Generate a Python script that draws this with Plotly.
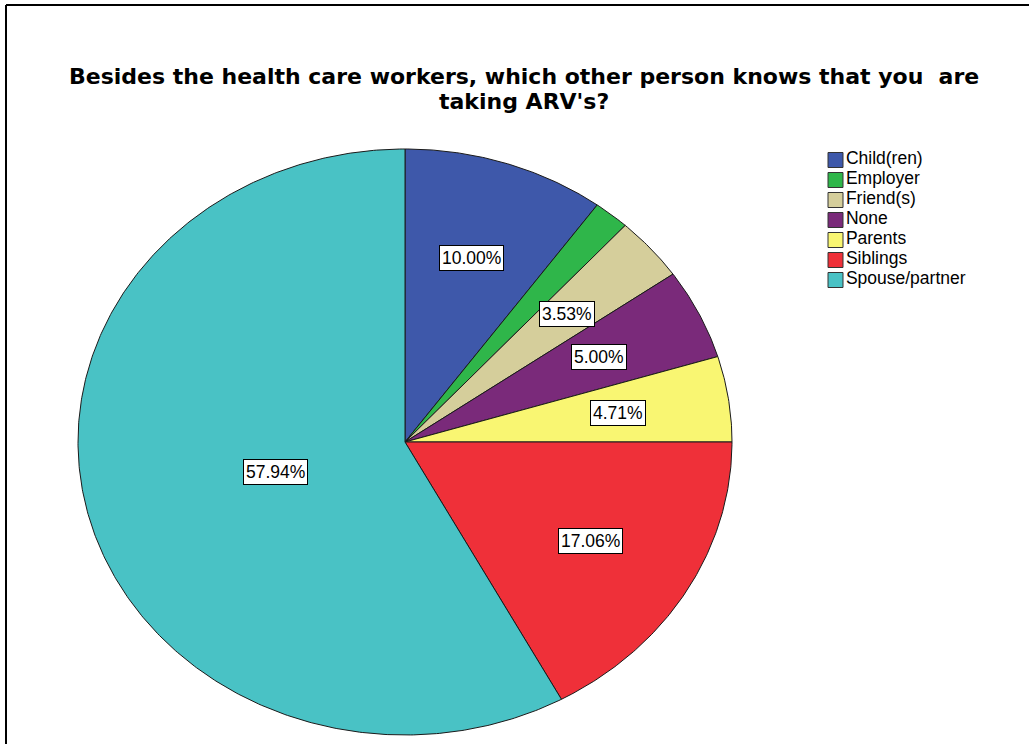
import numpy as np
import plotly.graph_objects as go

# Share of respondents (%) by the person who knows about ARV use
categories = ["Child(ren)", "Employer", "Friend(s)", "None", "Parents", "Siblings", "Spouse/partner"]
percent = [10.00, 1.76, 3.53, 5.00, 4.71, 17.06, 57.94]
colors = ["#3E58AA", "#2FB64A", "#D5CE9B", "#7A2A7A", "#F9F672", "#EF3039", "#49C2C5"]
title_lines = ["Besides the health care workers, which other person knows that you \u00a0are",
               "taking ARV's?"]

# Canvas and pie geometry (pixels)
W, H = 1029, 744
CX, CY = 405, 442          # pie centre
RX, RY = 327, 293          # horizontal / vertical semi-axes
EDGE = "#1a1a1a"
FONT = "Arial, Liberation Sans, sans-serif"
TITLE_FONT = "DejaVu Sans, Arial, sans-serif"

fig = go.Figure()

# Slices: unit-circle polygons, drawn clockwise from 12 o'clock.
# The axis scaling turns the unit circle into the elliptical pie.
total = sum(percent)
start = 0.0
mids = []
for name, val, col in zip(categories, percent, colors):
    a0 = start / total * 2 * np.pi
    a1 = (start + val) / total * 2 * np.pi
    n = max(int(np.degrees(a1 - a0) * 2), 4)
    th = np.linspace(a0, a1, n)
    xs = np.concatenate([[0], np.sin(th), [0]])
    ys = np.concatenate([[0], np.cos(th), [0]])
    fig.add_trace(go.Scatter(
        x=xs, y=ys, mode="lines", fill="toself", fillcolor=col,
        line=dict(color=EDGE, width=1), name=name, showlegend=False,
        hoverinfo="name",
    ))
    mids.append((a0 + a1) / 2)
    start += val

# Percentage labels in white boxes (tiny slices left unlabelled)
for val, mid in zip(percent, mids):
    if val < 2:
        continue
    r = 0.41 if val > 50 else 0.66
    fig.add_annotation(
        x=r * np.sin(mid), y=r * np.cos(mid), xref="x", yref="y",
        text=f"{val:.2f}%", showarrow=False,
        font=dict(family=FONT, size=17.5, color="black"),
        bgcolor="white", bordercolor="black", borderwidth=1, borderpad=2,
    )

# Legend: one row per category on its own overlay axes
fig.add_trace(go.Scatter(
    x=[835.5] * len(categories), y=list(range(len(categories))),
    xaxis="x2", yaxis="y2", mode="markers+text",
    marker=dict(symbol="square", size=15, color=colors, line=dict(color="#333333", width=1)),
    text=categories, textposition="middle right",
    textfont=dict(family=FONT, size=17.5, color="black"),
    showlegend=False, hoverinfo="skip", cliponaxis=False,
))

# Title, one annotation per line for tight line spacing
for line, yc in zip(title_lines, [76, 102]):
    fig.add_annotation(
        x=524 / W, y=1 - yc / H, xref="paper", yref="paper",
        text=f"<b>{line}</b>", showarrow=False, yanchor="middle",
        font=dict(family=TITLE_FONT, size=22, color="black"),
    )

# Frame lines along the top and left edges
fig.add_shape(type="line", xref="paper", yref="paper",
              x0=6 / W, x1=1.0, y0=1 - 5 / H, y1=1 - 5 / H,
              line=dict(color="black", width=2))
fig.add_shape(type="line", xref="paper", yref="paper",
              x0=6 / W, x1=6 / W, y0=0, y1=1 - 5 / H,
              line=dict(color="black", width=2))

ROW = 20  # legend row pitch, px
fig.update_layout(
    width=W, height=H, margin=dict(l=0, r=0, t=0, b=0),
    paper_bgcolor="white", plot_bgcolor="white", showlegend=False,
    xaxis=dict(range=[-CX / RX, (W - CX) / RX], visible=False, fixedrange=True),
    yaxis=dict(range=[-(H - CY) / RY, CY / RY], visible=False, fixedrange=True),
    xaxis2=dict(range=[0, W], overlaying="x", visible=False, fixedrange=True),
    yaxis2=dict(range=[(H - 160) / ROW, -160 / ROW], overlaying="y",
                visible=False, fixedrange=True),
)

fig.write_html("out.html")
